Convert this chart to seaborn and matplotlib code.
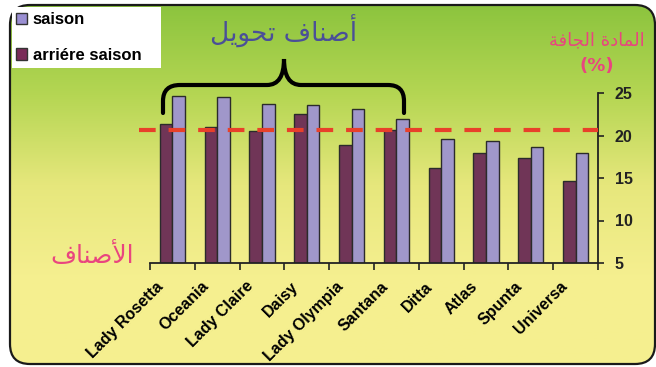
import numpy as np
import pandas as pd
import matplotlib
matplotlib.use('Agg')
import matplotlib.pyplot as plt
import matplotlib.transforms as mtransforms
import seaborn as sns
from matplotlib.patches import FancyBboxPatch, Rectangle, Patch, PathPatch
from matplotlib.path import Path

# valeurs
varietes = ['Lady Rosetta', 'Oceania', 'Lady Claire', 'Daisy', 'Lady Olympia',
            'Santana', 'Ditta', 'Atlas', 'Spunta', 'Universa']
arriere_saison = [21.4, 21.0, 20.5, 22.5, 18.9, 20.7, 16.2, 17.9, 17.4, 14.6]
saison = [24.7, 24.5, 23.7, 23.6, 23.1, 22.0, 19.6, 19.3, 18.6, 17.9]
seuil = 20.6
yticks = [5, 10, 15, 20, 25]

titre = 'أصناف تحويل'
ylabel = 'المادة الجافة'
xlabel = 'الأصناف'

# mise en forme arabe (formes contextuelles + ordre visuel)
forms = {
    'ا': ('\uFE8D', '\uFE8E', None, None),
    'أ': ('\uFE83', '\uFE84', None, None),
    'ل': ('\uFEDD', '\uFEDE', '\uFEDF', '\uFEE0'),
    'م': ('\uFEE1', '\uFEE2', '\uFEE3', '\uFEE4'),
    'د': ('\uFEA9', '\uFEAA', None, None),
    'ة': ('\uFE93', '\uFE94', None, None),
    'ج': ('\uFE9D', '\uFE9E', '\uFE9F', '\uFEA0'),
    'ف': ('\uFED1', '\uFED2', '\uFED3', '\uFED4'),
    'ص': ('\uFEB9', '\uFEBA', '\uFEBB', '\uFEBC'),
    'ن': ('\uFEE5', '\uFEE6', '\uFEE7', '\uFEE8'),
    'ت': ('\uFE95', '\uFE96', '\uFE97', '\uFE98'),
    'ح': ('\uFEA1', '\uFEA2', '\uFEA3', '\uFEA4'),
    'و': ('\uFEED', '\uFEEE', None, None),
    'ي': ('\uFEF1', '\uFEF2', '\uFEF3', '\uFEF4'),
}
lamalef = {'ا': ('\uFEFB', '\uFEFC'), 'أ': ('\uFEF7', '\uFEF8')}


def ar(text):
    out = []
    i = 0
    while i < len(text):
        c = text[i]
        if c not in forms:
            out.append(c)
            i += 1
            continue
        prev = text[i - 1] if i > 0 else None
        jp = prev in forms and forms[prev][2] is not None
        if c == 'ل' and i + 1 < len(text) and text[i + 1] in lamalef:
            lig = lamalef[text[i + 1]]
            out.append(lig[1] if jp else lig[0])
            i += 2
            continue
        nxt = text[i + 1] if i + 1 < len(text) else None
        jn = forms[c][2] is not None and nxt in forms
        iso, fin, ini, med = forms[c]
        out.append(med if (jp and jn) else fin if jp else ini if jn else iso)
        i += 1
    return ''.join(reversed(out))


df = pd.DataFrame({
    'variete': varietes * 2,
    'periode': ['arriére saison'] * len(varietes) + ['saison'] * len(varietes),
    'valeur': arriere_saison + saison,
})

sombre = '#7a2b58'
clair = '#9a8fd2'
rose = '#e9457f'

W, H = 656, 367
fig = plt.figure(figsize=(W / 100, H / 100), dpi=100)
fig.patch.set_facecolor('white')

# fond dégradé arrondi
bg = fig.add_axes([0, 0, 1, 1], zorder=0)
bg.set_xlim(0, W)
bg.set_ylim(H, 0)
bg.axis('off')
grad = np.linspace(0, 1, 256)[:, None]
cmap = matplotlib.colors.LinearSegmentedColormap.from_list(
    'fond', ['#8cc43e', '#b5d653', '#e6e77c', '#f5ef8f', '#f6f08f'])
cadre = FancyBboxPatch((10, 5), 645, 359, boxstyle='round,pad=0,rounding_size=20',
                       facecolor='none', edgecolor='#1a1a1a', linewidth=1.6, zorder=2)
bg.add_patch(cadre)
im = bg.imshow(grad, cmap=cmap, aspect='auto', extent=(10, 655, 364, 5), zorder=1)
im.set_clip_path(cadre)
bg.add_patch(Rectangle((12, 7), 149, 61, facecolor='white', edgecolor='none', zorder=3))

# graphique
ax = fig.add_axes([150 / W, 1 - 263 / H, 448 / W, 170 / H], zorder=1)
ax.patch.set_alpha(0)
sns.barplot(data=df, x='variete', y='valeur', hue='periode',
            hue_order=['arriére saison', 'saison'], palette=[sombre, clair],
            width=0.56, edgecolor='#2b2b2b', linewidth=1.0, legend=False, ax=ax,
            zorder=2)
ax.set_ylim(5, 25)
ax.set_xlim(-0.5, len(varietes) - 0.5)
ax.axhline(seuil, xmin=-0.025, xmax=1.0, color='#e8402a', linewidth=3,
           dashes=(4, 3.1), clip_on=False, zorder=3)

for s in ['left', 'top']:
    ax.spines[s].set_visible(False)
for s in ['right', 'bottom']:
    ax.spines[s].set_color('#222222')
    ax.spines[s].set_linewidth(1.3)

ax.yaxis.tick_right()
ax.set_yticks(yticks)
ax.set_yticklabels([str(v) for v in yticks], fontsize=11.5, fontweight='bold',
                   family='Liberation Sans')
ax.tick_params(axis='y', length=4, width=1.2, pad=8, colors='#222222')
ax.set_xticks(range(len(varietes)))
ax.set_xticklabels(varietes, rotation=45, ha='right', va='center',
                   rotation_mode='anchor', fontsize=11.5, fontweight='bold',
                   family='Liberation Sans')
ax.tick_params(axis='x', length=0, pad=0)
decal = mtransforms.ScaledTranslation(-11 / 100, -21 / 100, fig.dpi_scale_trans)
for lab in ax.get_xticklabels():
    lab.set_transform(lab.get_transform() + decal)
ax.set_xticks(np.arange(-0.5, len(varietes)), minor=True)
ax.tick_params(axis='x', which='minor', length=5, width=1.2, color='#222222')
ax.set_xlabel('')
ax.set_ylabel('')

# accolade
pts = [(163, 113), (163, 101), (163, 85), (180, 85), (267, 85), (284, 85), (284, 59),
       (284, 85), (301, 85), (388, 85), (404, 85), (404, 101), (404, 113)]
codes = [Path.MOVETO, Path.LINETO, Path.CURVE3, Path.CURVE3, Path.LINETO, Path.CURVE3,
         Path.CURVE3, Path.CURVE3, Path.CURVE3, Path.LINETO, Path.CURVE3, Path.CURVE3,
         Path.LINETO]
bg.add_patch(PathPatch(Path(pts, codes), facecolor='none', edgecolor='black',
                       linewidth=3, capstyle='round', zorder=4))

fig.text(284 / W, 1 - 31 / H, ar(titre), color='#4a4f98', fontsize=19,
         ha='center', va='center', family='DejaVu Sans')
fig.text(597 / W, 1 - 40 / H, ar(ylabel), color=rose, fontsize=13,
         ha='center', va='center', family='DejaVu Sans')
fig.text(597 / W, 1 - 66 / H, '(%)', color=rose, fontsize=13, fontweight='bold',
         ha='center', va='center', family='DejaVu Sans')
fig.text(92 / W, 1 - 255 / H, ar(xlabel), color=rose, fontsize=18,
         ha='center', va='center', family='DejaVu Sans')

handles = [Patch(facecolor=clair, edgecolor='#333333', label='saison'),
           Patch(facecolor=sombre, edgecolor='#333333', label='arriére saison')]
leg = fig.legend(handles=handles, loc='upper left', bbox_to_anchor=(16 / W, 1 - 12 / H),
                 frameon=False, handlelength=0.65, handleheight=0.65,
                 handletextpad=0.35, labelspacing=1.25, borderpad=0, borderaxespad=0,
                 prop={'family': 'Liberation Sans', 'weight': 'bold', 'size': 12})
leg.set_zorder(5)

fig.savefig('out.png', dpi=100)
